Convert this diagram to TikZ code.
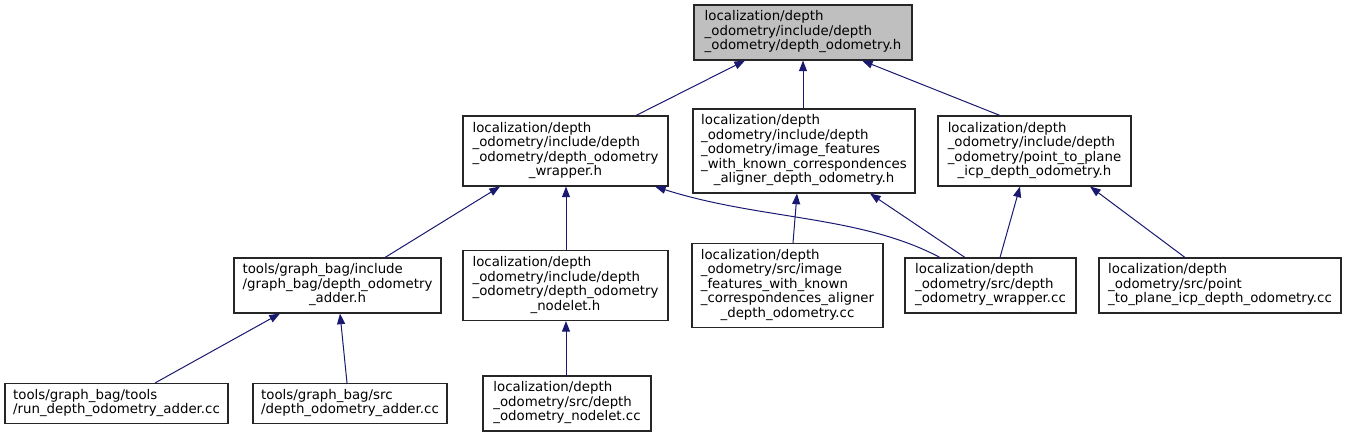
\documentclass[tikz,border=0pt]{standalone}
\usepackage{fontspec}
\setmainfont{DejaVu Sans}
\usetikzlibrary{arrows.meta,calc}
\definecolor{edgeblue}{HTML}{191970}
\definecolor{topfill}{HTML}{BFBFBF}
\newcommand{\boxtext}[2]{\begin{tabular}{@{}l@{}}#1\\\multicolumn{1}{@{}c@{}}{#2}\end{tabular}}
\begin{document}
\begin{tikzpicture}[x=0.75pt,y=-0.75pt,
  filebox/.style={draw=black!85, line width=0.8pt, fill=white, inner sep=0pt,
    font=\fontsize{10}{10.875}\selectfont, align=center},
  edge/.style={draw=edgeblue, line width=0.75pt, -{Triangle[length=8pt,width=6pt]}}]
\useasboundingbox (0,0) rectangle (1347,437);
% row 1
\node[filebox, fill=topfill, minimum width=163.5pt, minimum height=41.25pt] (top) at (803,32.5)
  {\boxtext{localization/depth\\\_odometry/include/depth}{\_odometry/depth\_odometry.h}};
% row 2
\node[filebox, minimum width=153.75pt, minimum height=52.5pt] (wraph) at (565.5,151)
  {\boxtext{localization/depth\\\_odometry/include/depth\\\_odometry/depth\_odometry}{\_wrapper.h}};
\node[filebox, minimum width=166.5pt, minimum height=63pt] (imgh) at (804,151)
  {\boxtext{localization/depth\\\_odometry/include/depth\\\_odometry/image\_features\\\_with\_known\_correspondences}{\_aligner\_depth\_odometry.h}};
\node[filebox, minimum width=144.75pt, minimum height=52.5pt] (ptph) at (1034.5,151)
  {\boxtext{localization/depth\\\_odometry/include/depth\\\_odometry/point\_to\_plane}{\_icp\_depth\_odometry.h}};
% row 3
\node[filebox, minimum width=155.25pt, minimum height=41.25pt] (adderh) at (337.5,285.5)
  {\boxtext{tools/graph\_bag/include\\/graph\_bag/depth\_odometry}{\_adder.h}};
\node[filebox, minimum width=153.75pt, minimum height=52.5pt] (nodeleth) at (565.5,285.5)
  {\boxtext{localization/depth\\\_odometry/include/depth\\\_odometry/depth\_odometry}{\_nodelet.h}};
\node[filebox, minimum width=143.25pt, minimum height=63pt] (imgcc) at (787.5,285.5)
  {\boxtext{localization/depth\\\_odometry/src/image\\\_features\_with\_known\\\_correspondences\_aligner}{\_depth\_odometry.cc}};
\node[filebox, minimum width=128.25pt, minimum height=41.25pt] (wrapcc) at (990.5,285.5)
  {\boxtext{localization/depth\\\_odometry/src/depth}{\_odometry\_wrapper.cc}};
\node[filebox, minimum width=181.5pt, minimum height=41.25pt] (ptpcc) at (1220,285.5)
  {\boxtext{localization/depth\\\_odometry/src/point}{\_to\_plane\_icp\_depth\_odometry.cc}};
% row 4
\node[filebox, minimum width=167.25pt, minimum height=30pt] (run) at (116.5,403.5)
  {\boxtext{tools/graph\_bag/tools}{/run\_depth\_odometry\_adder.cc}};
\node[filebox, minimum width=145.5pt, minimum height=30pt] (srcadd) at (350,403.5)
  {\boxtext{tools/graph\_bag/src}{/depth\_odometry\_adder.cc}};
\node[filebox, minimum width=126pt, minimum height=41.25pt] (nodeletcc) at (567,403.5)
  {\boxtext{localization/depth\\\_odometry/src/depth}{\_odometry\_nodelet.cc}};
% edges
\draw[edge] ($(wraph.north)+(70.5,0)$) -- ($(top.south)+(-58,0)$);
\draw[edge] ($(imgh.north)+(-1,0)$) -- ($(top.south)+(0,0)$);
\draw[edge] ($(ptph.north)+(-34.5,0)$) -- ($(top.south)+(59,0)$);
\draw[edge] ($(adderh.north)+(47.5,0)$) -- ($(wraph.south)+(-65.5,0)$);
\draw[edge] ($(nodeleth.north)+(0.5,0)$) -- ($(wraph.south)+(0.5,0)$);
\draw[edge] ($(wrapcc.north)+(-50.5,0)$) .. controls (860,215) and (760,220) .. ($(wraph.south)+(89.5,0)$);
\draw[edge] ($(imgcc.north)+(5.5,0)$) -- ($(imgh.south)+(-7,0)$);
\draw[edge] ($(wrapcc.north)+(-25.5,0)$) -- ($(imgh.south)+(66,0)$);
\draw[edge] ($(wrapcc.north)+(9.5,0)$) -- ($(ptph.south)+(-14.5,0)$);
\draw[edge] ($(ptpcc.north)+(-35,0)$) -- ($(ptph.south)+(55.5,0)$);
\draw[edge] ($(run.north)+(38.5,0)$) -- ($(adderh.south)+(-57.5,0)$);
\draw[edge] ($(srcadd.north)+(-3,0)$) -- ($(adderh.south)+(2.5,0)$);
\draw[edge] ($(nodeletcc.north)+(-1,0)$) -- ($(nodeleth.south)+(0.5,0)$);
\end{tikzpicture}
\end{document}
